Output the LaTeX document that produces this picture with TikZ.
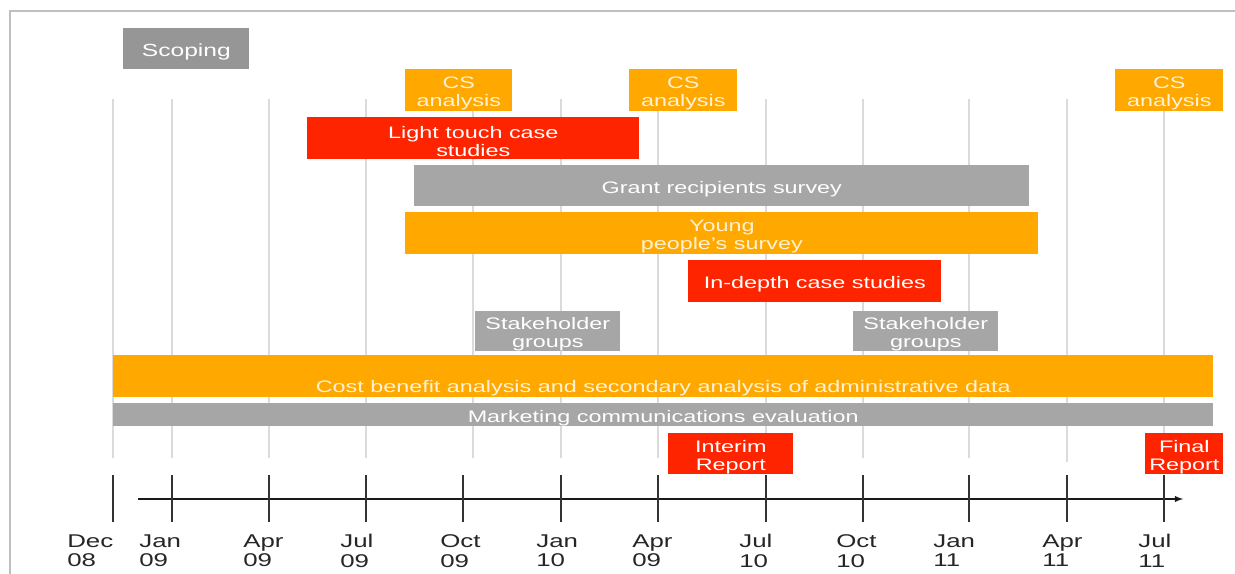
\documentclass[tikz,border=0pt]{standalone}
\usepackage{fontspec}
\setmainfont[FakeStretch=1.4]{Liberation Sans}
\usetikzlibrary{arrows}
\definecolor{barorange}{RGB}{255,168,0}
\definecolor{barred}{RGB}{255,36,0}
\definecolor{bargray}{RGB}{166,166,166}
\definecolor{scopegray}{RGB}{150,150,150}
\definecolor{framegray}{RGB}{191,191,191}
\definecolor{creamtext}{RGB}{255,242,212}
\newcommand{\liftstrut}{\rule{0pt}{10.4pt}}

\begin{document}
\begin{tikzpicture}[x=0.02cm, y=-0.02cm,
		bar/.style={anchor=north west, inner sep=0pt, align=center, text=white, font=\fontsize{9.5}{10.2}\selectfont, execute at begin node={\liftstrut}},
		gbar/.style={bar, fill=bargray},
		obar/.style={bar, fill=barorange, text=creamtext},
		rbar/.style={bar, fill=barred},
		gridln/.style={black!14, line width=0.8pt},
		tickln/.style={black!80, line width=1pt},
		monthlbl/.style={anchor=north west, inner sep=0pt, align=left, text=black!85, font=\fontsize{10.5}{11.3}\selectfont}]
		
		\useasboundingbox (0,0) rectangle (1235,574);
		
		% frame
		\draw[framegray, line width=1.1pt] (10,574) -- (10,11) -- (1235,11);
		
		% month grid
		\draw[gridln] (113,99) -- (113,458);
		\draw[gridln] (172,99) -- (172,458);
		\draw[gridln] (269,99) -- (269,458);
		\draw[gridln] (366,99) -- (366,458);
		\draw[gridln] (473,99) -- (473,458);
		\draw[gridln] (561,99) -- (561,458);
		\draw[gridln] (658,99) -- (658,458);
		\draw[gridln] (766,99) -- (766,458);
		\draw[gridln] (863,99) -- (863,458);
		\draw[gridln] (969,99) -- (969,458);
		\draw[gridln] (1067,99) -- (1067,462);
		\draw[gridln] (1164,99) -- (1164,458);
		
		% activities
		\node[bar, fill=scopegray, minimum width=2.52cm, minimum height=0.82cm, font=\fontsize{10}{10.2}\selectfont] (scoping) at (123,28) {Scoping};
		
		\node[obar, minimum width=2.14cm, minimum height=0.84cm] (csa) at (405,69) {\liftstrut CS\\analysis};
		\node[obar, minimum width=2.16cm, minimum height=0.84cm] (csb) at (629,69) {\liftstrut CS\\analysis};
		\node[obar, minimum width=2.16cm, minimum height=0.84cm] (csc) at (1115,69) {\liftstrut CS\\analysis};
		
		\node[rbar, minimum width=6.64cm, minimum height=0.84cm] (lighttouch) at (307,117) {\liftstrut Light touch case\\studies};
		
		\node[gbar, minimum width=12.3cm, minimum height=0.82cm] (grant) at (414,165) {Grant recipients survey};
		
		\node[obar, minimum width=12.66cm, minimum height=0.84cm] (young) at (405,212) {\liftstrut Young\\people's survey};
		
		\node[rbar, minimum width=5.06cm, minimum height=0.84cm] (indepth) at (688,260) {In-depth case studies};
		
		\node[gbar, minimum width=2.9cm, minimum height=0.7cm] (stakea) at (475,311) {\liftstrut Stakeholder\\groups};
		\node[gbar, minimum width=2.9cm, minimum height=0.7cm] (stakeb) at (853,311) {\liftstrut Stakeholder\\groups};
		
		\node[obar, minimum width=22cm, minimum height=0.84cm] (costbenefit) at (113,355) {\raisebox{-0.17cm}[\height][\depth]{Cost benefit analysis and secondary analysis of administrative data}};
		
		\node[gbar, minimum width=22cm, minimum height=0.46cm] (marketing) at (113,403) {Marketing communications evaluation};
		
		\node[rbar, minimum width=2.5cm, minimum height=0.82cm] (interim) at (668,433) {\liftstrut Interim\\Report};
		\node[rbar, minimum width=1.56cm, minimum height=0.82cm] (final) at (1145,433) {\liftstrut Final\\Report};
		
		% time axis
		\coordinate (axstart) at (138,499);
		\coordinate (axend) at (1183,499);
		\draw[black!90, line width=0.6pt, -latex] (axstart) -- (axend);
		
		\draw[tickln] (113,475) -- (113,522);
		\draw[tickln] (172,475) -- (172,522);
		\draw[tickln] (269,475) -- (269,522);
		\draw[tickln] (366,475) -- (366,522);
		\draw[tickln] (463,475) -- (463,522);
		\draw[tickln] (561,475) -- (561,522);
		\draw[tickln] (658,475) -- (658,522);
		\draw[tickln] (766,475) -- (766,522);
		\draw[tickln] (863,475) -- (863,522);
		\draw[tickln] (969,475) -- (969,522);
		\draw[tickln] (1067,475) -- (1067,522);
		\draw[tickln] (1164,475) -- (1164,522);
		
		\node[monthlbl] (dec08) at (67,534) {Dec\\08};
		\node[monthlbl] (jan09) at (139,534) {Jan\\09};
		\node[monthlbl] (apr09) at (243,534) {Apr\\09};
		\node[monthlbl] (jul09) at (340,534) {Jul\\09};
		\node[monthlbl] (oct09) at (440,534) {Oct\\09};
		\node[monthlbl] (jan10) at (536,534) {Jan\\10};
		\node[monthlbl] (apr10) at (632,534) {Apr\\09};
		\node[monthlbl] (jul10) at (739,534) {Jul\\10};
		\node[monthlbl] (oct10) at (836,534) {Oct\\10};
		\node[monthlbl] (jan11) at (933,534) {Jan\\11};
		\node[monthlbl] (apr11) at (1042,534) {Apr\\11};
		\node[monthlbl] (jul11) at (1138,534) {Jul\\11};
		
	\end{tikzpicture}
\end{document}
